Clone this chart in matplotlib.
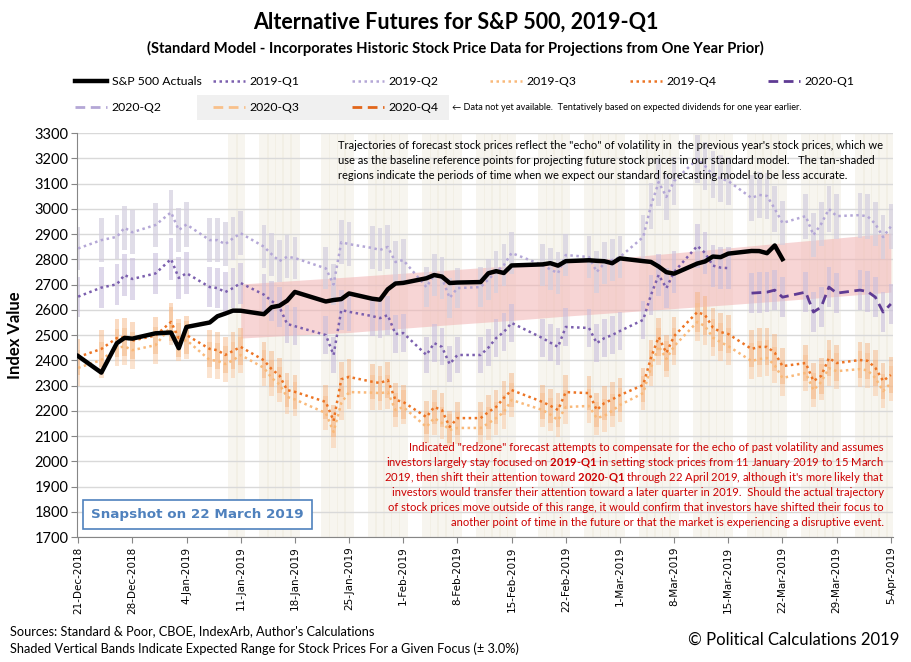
import matplotlib
matplotlib.use("Agg")
import matplotlib.pyplot as plt
import matplotlib.dates as mdates
from matplotlib.lines import Line2D
from matplotlib.patches import Rectangle
import numpy as np
import pandas as pd

plt.rcParams['font.family'] = ['Lato', 'DejaVu Sans']
plt.rcParams['mathtext.fontset'] = 'custom'
plt.rcParams['mathtext.rm'] = 'Lato'
plt.rcParams['mathtext.bf'] = 'Lato:bold'

# Data_________________________________________________________________________
holidays = ['2018-12-25', '2019-01-01', '2019-01-21', '2019-02-18']
days = pd.bdate_range('2018-12-21', '2019-04-05', freq='C', holidays=holidays)

sp500 = [2416.62, 2351.10, 2467.70, 2488.83, 2485.74, 2506.85,
         2510.03, 2447.89, 2531.94, 2549.69, 2574.41, 2584.96, 2596.64, 2596.26,
         2582.61, 2610.30, 2616.10, 2635.96, 2670.71, 2632.90, 2638.70, 2642.33,
         2664.76, 2643.85, 2640.00, 2681.05, 2704.10,
         2706.53, 2724.87, 2737.70, 2731.61, 2706.05, 2707.88, 2709.80, 2744.73,
         2753.03, 2745.73, 2775.60, 2779.76, 2784.70, 2774.88, 2792.67, 2796.11,
         2793.90, 2792.38, 2784.49,
         2803.69, 2792.81, 2789.65, 2771.45, 2748.93, 2743.07, 2783.30, 2791.52,
         2810.92, 2808.48, 2822.48, 2832.94, 2832.57, 2824.23, 2854.88, 2800.71]

q1_2019 = [2652, 2688, 2701, 2738, 2722, 2744,
           2801, 2726, 2745, 2690, 2686, 2670, 2686, 2706, 2660, 2635, 2611, 2544,
           2535, 2500, 2421, 2599, 2592, 2575, 2567, 2579, 2504,
           2508, 2421, 2468, 2453, 2385, 2421, 2421, 2450, 2488, 2512, 2548, 2488,
           2470, 2453, 2532, 2528, 2468, 2488, 2500,
           2516, 2560, 2658, 2738, 2686, 2750, 2853, 2825, 2775, 2767, 2765]

q2_2019 = [2843, 2876, 2889, 2925, 2907, 2936,
           2986, 2916, 2938, 2876, 2876, 2860, 2883, 2903, 2850, 2820, 2793, 2810,
           2805, 2764, 2700, 2868, 2860, 2845, 2837, 2849, 2789,
           2797, 2690, 2738, 2726, 2647, 2686, 2690, 2720, 2750, 2777, 2825, 2777,
           2760, 2745, 2817, 2809, 2750, 2785, 2797,
           2809, 2888, 3011, 3106, 3047, 3110, 3197, 3169, 3135, 3120, 3110,
           3043, 3055, 3051, 3000, 2944, 2971, 2896, 2940, 2999, 2971,
           2975, 2970, 2940, 2888, 2930]

q3_2019 = [2370, 2401, 2449, 2455, 2440, 2460,
           2535, 2472, 2480, 2401, 2398, 2385, 2400, 2421, 2370, 2330, 2305, 2255,
           2245, 2191, 2116, 2231, 2274, 2272, 2270, 2274, 2203,
           2215, 2136, 2171, 2152, 2124, 2132, 2132, 2150, 2171, 2195, 2243, 2203,
           2185, 2163, 2215, 2219, 2171, 2180, 2200,
           2223, 2270, 2370, 2456, 2405, 2456, 2552, 2535, 2490, 2472, 2456,
           2397, 2405, 2409, 2380, 2330, 2350, 2282, 2314, 2369, 2357,
           2365, 2360, 2330, 2278, 2310]

q4_2019 = [2413, 2445, 2488, 2492, 2478, 2498,
           2552, 2488, 2500, 2445, 2440, 2421, 2437, 2453, 2400, 2365, 2340, 2282,
           2275, 2235, 2160, 2325, 2334, 2315, 2310, 2322, 2243,
           2235, 2175, 2215, 2203, 2136, 2171, 2171, 2195, 2215, 2251, 2282, 2235,
           2220, 2203, 2274, 2270, 2203, 2231, 2245,
           2262, 2302, 2409, 2492, 2429, 2496, 2591, 2579, 2530, 2512, 2504,
           2445, 2453, 2453, 2430, 2377, 2389, 2318, 2338, 2409, 2389,
           2401, 2398, 2370, 2318, 2342]

q1_2020 = [2666, 2668, 2670, 2678, 2650, 2670, 2591, 2611, 2690, 2666,
           2678, 2672, 2650, 2591, 2623]

zone_dates = pd.date_range('2019-01-11', '2019-04-05', freq='7D')
zone_upper = [2702, 2716, 2730, 2745, 2760, 2775, 2791, 2806, 2825, 2845, 2865, 2884, 2904]
zone_lower = [2488, 2500, 2510, 2527, 2543, 2558, 2575, 2590, 2605, 2620, 2636, 2653, 2670]

band_pct = 0.03
tan_start = '2019-01-10'

# Figure_______________________________________________________________________
fig = plt.figure(figsize=(9.11, 6.62), dpi=100)
ax = fig.add_axes([0.0845, 0.1888, 0.8955, 0.6102])

x = mdates.date2num(days.to_pydatetime())
n_sp = len(sp500)
n_q1 = len(q1_2019)

# tan-shaded stripes
for d in x[days >= tan_start]:
    ax.axvspan(d - 0.6, d + 0.6, color='#ece6d8', alpha=0.4, lw=0, zorder=0)

# redzone
zx = mdates.date2num(zone_dates.to_pydatetime())
ax.fill_between(zx, zone_lower, zone_upper, color='#f2b3b3', alpha=0.55, lw=0, zorder=1)


def bands(xs, vals, color, alpha):
    v = np.array(vals, dtype=float)
    ax.bar(xs, 2 * band_pct * v, bottom=(1 - band_pct) * v, width=0.6,
           color=color, alpha=alpha, lw=0, zorder=2)


bands(x, q2_2019, '#d4cfdf', 0.7)
bands(x[:n_q1], q1_2019, '#c9bedc', 0.6)
bands(x, q3_2019, '#f9c9a0', 0.5)
bands(x, q4_2019, '#f4b07a', 0.45)
bands(x[n_q1:], q1_2020, '#c9bedc', 0.6)

dot = (0, (1, 1.4))
dash = (0, (3.5, 2))
c_q1, c_q2, c_q3, c_q4 = '#7b5fae', '#b4a7d6', '#f9b97a', '#ec7424'
c_20q1, c_20q2, c_20q3, c_20q4 = '#5f3b94', '#b4a7d6', '#f8c08a', '#e2661a'

ax.plot(x, q2_2019, ls=dot, lw=1.8, color=c_q2, zorder=3)
ax.plot(x, q3_2019, ls=dot, lw=1.8, color=c_q3, zorder=3)
ax.plot(x, q4_2019, ls=dot, lw=1.8, color=c_q4, zorder=3)
ax.plot(x[:n_q1], q1_2019, ls=dot, lw=1.8, color=c_q1, zorder=3)
ax.plot(x[n_q1:], q1_2020, ls=dash, lw=2.0, color=c_20q1, zorder=3)
ax.plot(x[:n_sp], sp500, color='black', lw=3.2, solid_joinstyle='round', zorder=4)

# axes
ax.set_ylim(1700, 3300)
ax.set_yticks(np.arange(1700, 3301, 100))
ax.yaxis.grid(True, color='#d9d9d9', lw=1)
ax.set_axisbelow(True)
ticks = pd.date_range('2018-12-21', '2019-04-05', freq='7D')
ax.set_xticks(mdates.date2num(ticks.to_pydatetime()))
ax.set_xticklabels([f"{t.day}-{t.strftime('%b-%Y')}" for t in ticks], rotation=90,
                   family='DejaVu Sans', fontsize=7.5)
ax.set_xlim(mdates.date2num(pd.Timestamp('2018-12-21')) - 0.15,
            mdates.date2num(pd.Timestamp('2019-04-05')) + 0.25)
for s in ['top', 'right']:
    ax.spines[s].set_visible(False)
for s in ['left', 'bottom']:
    ax.spines[s].set_color('#868686')
ax.tick_params(axis='y', labelsize=10.5, length=4, color='#868686', pad=2)
ax.tick_params(axis='x', length=4, color='#868686', pad=3)

# Text__________________________________________________________________________
fig.text(0.5, 0.966, 'Alternative Futures for S&P 500, 2019-Q1', ha='center', va='center',
         fontsize=15.5, fontweight='bold')
fig.text(0.5, 0.927, '(Standard Model - Incorporates Historic Stock Price Data for Projections from One Year Prior)',
         ha='center', va='center', fontsize=10.6, fontweight='bold')
fig.text(0.017, 0.494, 'Index Value', rotation=90, ha='center', va='center',
         fontsize=12, fontweight='bold')

# legend: one small legend per column so the columns sit on an even grid
fig.add_artist(Rectangle((197 / 911, 1 - 120 / 662), 252 / 911, 25 / 662,
                         transform=fig.transFigure, color='#f0f0f0', lw=0, zorder=0))
h = {
    'S&P 500 Actuals': Line2D([], [], color='black', lw=3.2),
    '2019-Q1': Line2D([], [], color=c_q1, ls=dot, lw=1.8),
    '2019-Q2': Line2D([], [], color=c_q2, ls=dot, lw=1.8),
    '2019-Q3': Line2D([], [], color=c_q3, ls=dot, lw=1.8),
    '2019-Q4': Line2D([], [], color=c_q4, ls=dot, lw=1.8),
    '2020-Q1': Line2D([], [], color=c_20q1, ls=dash, lw=2.0),
    '2020-Q2': Line2D([], [], color=c_20q2, ls=dash, lw=2.0),
    '2020-Q3': Line2D([], [], color=c_20q3, ls=dash, lw=2.0),
    '2020-Q4': Line2D([], [], color=c_20q4, ls=dash, lw=2.0),
}
columns = [['S&P 500 Actuals', '2020-Q2'], ['2019-Q1', '2020-Q3'], ['2019-Q2', '2020-Q4'],
           ['2019-Q3'], ['2019-Q4'], ['2020-Q1']]
col_x = [75, 213, 352, 490, 630, 768]
for cx, labels in zip(col_x, columns):
    lg = fig.legend([h[k] for k in labels], labels, loc='upper left',
                    bbox_to_anchor=(cx / 911, 1 - 76 / 662), frameon=False, fontsize=8.8,
                    handlelength=2.6, handletextpad=0.4, labelspacing=1.25,
                    borderpad=0, borderaxespad=0)
fig.text(452 / 911, 1 - 107 / 662,
         '\u2190 Data not yet available.  Tentatively based on expected dividends for one year earlier.',
         ha='left', va='center', fontsize=6.6)

note = ['Trajectories of forecast stock prices reflect the "echo" of volatility in  the previous year\'s stock prices, which we',
        'use as the baseline reference points for projecting future stock prices in our standard model.   The tan-shaded',
        'regions indicate the periods of time when we expect our standard forecasting model to be less accurate.']
for i, line in enumerate(note):
    fig.text(338 / 911, 1 - (149 + 15 * i) / 662, line, ha='left', va='baseline', fontsize=8.0)

red = ['Indicated "redzone" forecast attempts to compensate for the echo of past volatility and assumes',
       'investors largely stay focused on $\\mathbf{2019}$-$\\mathbf{Q1}$ in setting stock prices from 11 January 2019 to 15 March',
       '2019, then shift their attention toward $\\mathbf{2020}$-$\\mathbf{Q1}$ through 22 April 2019, although it\'s more likely that',
       'investors would transfer their attention toward a later quarter in 2019.  Should the actual trajectory',
       'of stock prices move outside of this range, it would confirm that investors have shifted their focus to',
       'another point of time in the future or that the market is experiencing a disruptive event.']
for i, line in enumerate(red):
    fig.text(884 / 911, 1 - (451 + 15 * i) / 662, line, ha='right', va='baseline',
             fontsize=8.1, color='#cc0000')

ax.text(0.017, 0.04, 'Snapshot on 22 March 2019', transform=ax.transAxes, ha='left', va='bottom',
        family='DejaVu Sans', fontweight='bold', fontsize=9.7, color='#4f81bd', zorder=6,
        bbox=dict(boxstyle='square,pad=0.6', fc='white', ec='#4f81bd', lw=1.2))

fig.text(10 / 911, 1 - 631 / 662, "Sources: Standard & Poor, CBOE, IndexArb, Author's Calculations",
         ha='left', va='center', fontsize=9.2)
fig.text(10 / 911, 1 - 649 / 662,
         'Shaded Vertical Bands Indicate Expected Range for Stock Prices For a Given Focus (\u00b1 3.0%)',
         ha='left', va='center', fontsize=9.2)
fig.text(899 / 911, 1 - 640 / 662, '\u00a9 Political Calculations 2019', ha='right', va='center',
         fontsize=12)

fig.savefig('out.png', dpi=100)
